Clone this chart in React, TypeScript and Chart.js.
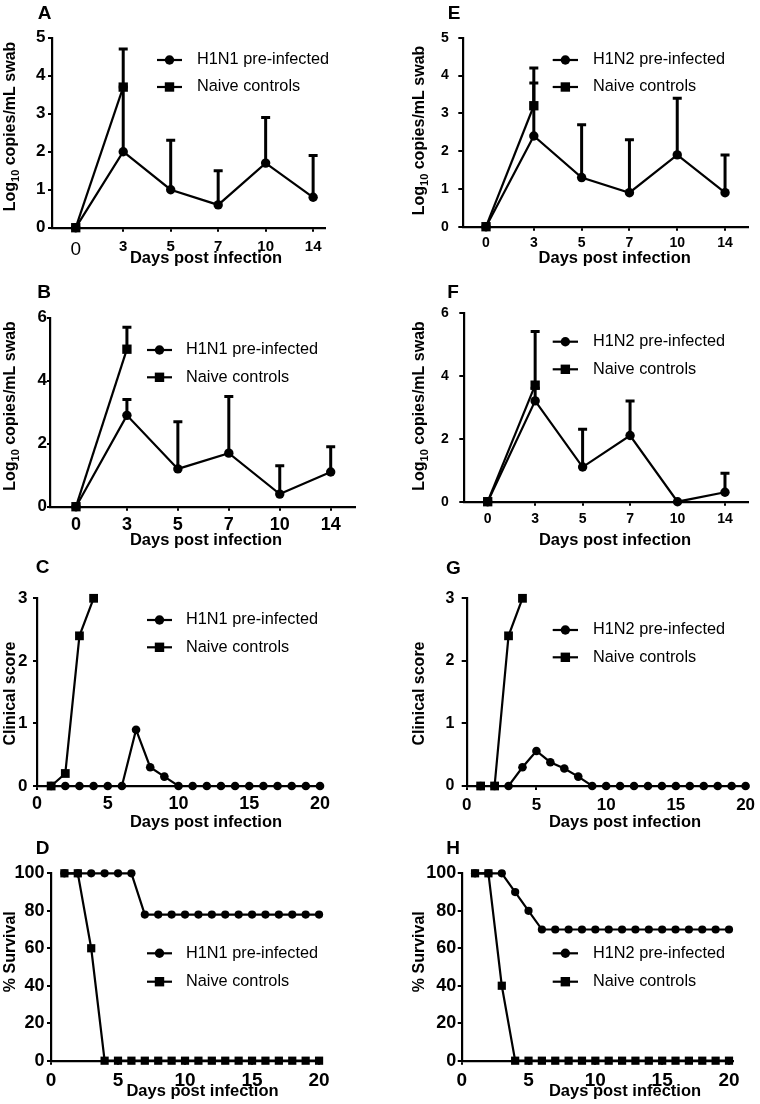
import React, { useEffect, useRef } from 'react';
import { Chart, registerables } from 'chart.js';

Chart.register(...registerables);

const FONT = '"Liberation Sans", Arial, Helvetica, sans-serif';

// ---------------- data ----------------
const swabDayLabels = ['0', '3', '5', '7', '10', '14'];
const swabIdx = [0, 1, 2, 3, 4, 5];
const naiveSwabIdx = [0, 1];
const dailyDays = [1, 2, 3, 4, 5, 6, 7, 8, 9, 10, 11, 12, 13, 14, 15, 16, 17, 18, 19, 20];
const naiveDays = [1, 2, 3, 4];
const dailyTicks = [0, 5, 10, 15, 20];

const ticks0to5 = [0, 1, 2, 3, 4, 5];
const ticks0to6 = [0, 2, 4, 6];
const ticks0to3 = [0, 1, 2, 3];
const ticks0to100 = [0, 20, 40, 60, 80, 100];

// A: H1N1, nasal swab
const aPre = [0, 2.0, 1.0, 0.6, 1.7, 0.8];
const aPreSd = [0, 1.7, 1.3, 0.9, 1.2, 1.1];
const aNaive = [0, 3.7];
const aNaiveSd = [0, 1.0];
// B: H1N1, second swab
const bPre = [0, 2.9, 1.2, 1.7, 0.4, 1.1];
const bPreSd = [0, 0.5, 1.5, 1.8, 0.9, 0.8];
const bNaive = [0, 5.0];
const bNaiveSd = [0, 0.7];
// E: H1N2, nasal swab
const ePre = [0, 2.4, 1.3, 0.9, 1.9, 0.9];
const ePreSd = [0, 1.4, 1.4, 1.4, 1.5, 1.0];
const eNaive = [0, 3.2];
const eNaiveSd = [0, 1.0];
// F: H1N2, second swab
const fPre = [0, 3.2, 1.1, 2.1, 0, 0.3];
const fPreSd = [0, 0.4, 1.2, 1.1, 0, 0.6];
const fNaive = [0, 3.7];
const fNaiveSd = [0, 1.7];
// C: H1N1 clinical score (days 1-20)
const cPre = [0, 0, 0, 0, 0, 0, 0.9, 0.3, 0.15, 0, 0, 0, 0, 0, 0, 0, 0, 0, 0, 0];
const cNaive = [0, 0.2, 2.4, 3.0];
// G: H1N2 clinical score
const gPre = [0, 0, 0, 0.3, 0.56, 0.38, 0.28, 0.15, 0, 0, 0, 0, 0, 0, 0, 0, 0, 0, 0, 0];
const gNaive = [0, 0, 2.4, 3.0];
// D: H1N1 survival
const dPre = [100, 100, 100, 100, 100, 100, 78, 78, 78, 78, 78, 78, 78, 78, 78, 78, 78, 78, 78, 78];
const dNaive = [100, 100, 60, 0, 0, 0, 0, 0, 0, 0, 0, 0, 0, 0, 0, 0, 0, 0, 0, 0];
// H: H1N2 survival
const hPre = [100, 100, 100, 90, 80, 70, 70, 70, 70, 70, 70, 70, 70, 70, 70, 70, 70, 70, 70, 70];
const hNaive = [100, 100, 40, 0, 0, 0, 0, 0, 0, 0, 0, 0, 0, 0, 0, 0, 0, 0, 0, 0];

const legendH1N1 = ['H1N1 pre-infected', 'Naive controls'];
const legendH1N2 = ['H1N2 pre-infected', 'Naive controls'];
const xTitleText = 'Days post infection';
const yTitleLog = [{ t: 'Log' }, { t: '10', sub: true }, { t: ' copies/mL swab' }];
const yTitleClin = [{ t: 'Clinical score' }];
const yTitleSurv = [{ t: '% Survival' }];

// ---------------- layout ----------------
type Series = { xs: number[]; values: number[]; sd?: number[]; style: 'circle' | 'rect' };
type Panel = {
  letter: string;
  box: number[];
  area: number[];
  xMin: number; xMax: number; xTicks: number[]; xLabels?: string[];
  yMin: number; yMax: number; yTicks: number[];
  xFont: number; xTickLen: number; xPad: number; xFirstRegular?: number;
  yFont: number; yTickLen: number; yPad: number;
  circleR: number; rectR: number;
  series: Series[];
  letterPos: number[]; xTitlePos: number[]; yTitlePos: number[];
  yTitle: { t: string; sub?: boolean }[];
  legend: { x1: number; x2: number; tx: number; rows: number[]; labels: string[] };
};

const panels: Panel[] = [
  {
    letter: 'A', box: [0, 0, 380, 270], area: [52, 37.7, 325, 227.7],
    xMin: -0.5, xMax: 5.25, xTicks: swabIdx, xLabels: swabDayLabels,
    yMin: 0, yMax: 5, yTicks: ticks0to5,
    xFont: 15, xTickLen: 4, xPad: 6.2, xFirstRegular: 19,
    yFont: 17, yTickLen: 4, yPad: 2.5, circleR: 4.7, rectR: 6.6,
    series: [
      { xs: naiveSwabIdx, values: aNaive, sd: aNaiveSd, style: 'rect' },
      { xs: swabIdx, values: aPre, sd: aPreSd, style: 'circle' },
    ],
    letterPos: [44.5, 14], xTitlePos: [206, 258], yTitlePos: [10, 126.5], yTitle: yTitleLog,
    legend: { x1: 157, x2: 182, tx: 197, rows: [60, 87], labels: legendH1N1 },
  },
  {
    letter: 'E', box: [380, 0, 380, 270], area: [463.3, 37.7, 748, 226.7],
    xMin: -0.475, xMax: 5.48, xTicks: swabIdx, xLabels: swabDayLabels,
    yMin: 0, yMax: 5, yTicks: ticks0to5,
    xFont: 14, xTickLen: 4, xPad: 4.4,
    yFont: 14, yTickLen: 5, yPad: 9.5, circleR: 4.7, rectR: 6.6,
    series: [
      { xs: naiveSwabIdx, values: eNaive, sd: eNaiveSd, style: 'rect' },
      { xs: swabIdx, values: ePre, sd: ePreSd, style: 'circle' },
    ],
    letterPos: [454, 14], xTitlePos: [614.7, 258.3], yTitlePos: [419, 130.5], yTitle: yTitleLog,
    legend: { x1: 552.7, x2: 578, tx: 593, rows: [60, 87], labels: legendH1N2 },
  },
  {
    letter: 'B', box: [0, 270, 380, 282], area: [50, 317.7, 355, 506.7],
    xMin: -0.51, xMax: 5.477, xTicks: swabIdx, xLabels: swabDayLabels,
    yMin: 0, yMax: 6, yTicks: ticks0to6,
    xFont: 18, xTickLen: 4, xPad: 3.5,
    yFont: 17, yTickLen: 3, yPad: 0, circleR: 4.7, rectR: 6.6,
    series: [
      { xs: naiveSwabIdx, values: bNaive, sd: bNaiveSd, style: 'rect' },
      { xs: swabIdx, values: bPre, sd: bPreSd, style: 'circle' },
    ],
    letterPos: [44, 293], xTitlePos: [206, 540], yTitlePos: [10, 406], yTitle: yTitleLog,
    legend: { x1: 147, x2: 172, tx: 186, rows: [350, 377.3], labels: legendH1N1 },
  },
  {
    letter: 'F', box: [380, 270, 380, 282], area: [464.3, 312.7, 748, 501.7],
    xMin: -0.493, xMax: 5.485, xTicks: swabIdx, xLabels: swabDayLabels,
    yMin: 0, yMax: 6, yTicks: ticks0to6,
    xFont: 14, xTickLen: 4, xPad: 5.2,
    yFont: 14, yTickLen: 5, yPad: 10.5, circleR: 4.7, rectR: 6.6,
    series: [
      { xs: naiveSwabIdx, values: fNaive, sd: fNaiveSd, style: 'rect' },
      { xs: swabIdx, values: fPre, sd: fPreSd, style: 'circle' },
    ],
    letterPos: [453, 292.7], xTitlePos: [615, 540], yTitlePos: [419, 406], yTitle: yTitleLog,
    legend: { x1: 552.7, x2: 578, tx: 593, rows: [341.7, 369.3], labels: legendH1N2 },
  },
  {
    letter: 'C', box: [0, 540, 380, 294], area: [37, 598.3, 321, 786],
    xMin: 0, xMax: 20.07, xTicks: dailyTicks,
    yMin: 0, yMax: 3, yTicks: ticks0to3,
    xFont: 18, xTickLen: 4, xPad: 3.3,
    yFont: 17, yTickLen: 4, yPad: 5.5, circleR: 4.3, rectR: 6.2,
    series: [
      { xs: naiveDays, values: cNaive, style: 'rect' },
      { xs: dailyDays, values: cPre, style: 'circle' },
    ],
    letterPos: [42.5, 568], xTitlePos: [206, 822], yTitlePos: [10, 693.5], yTitle: yTitleClin,
    legend: { x1: 147, x2: 172, tx: 186, rows: [620, 647.3], labels: legendH1N1 },
  },
  {
    letter: 'G', box: [380, 540, 380, 294], area: [466.7, 598.3, 750, 786],
    xMin: 0, xMax: 20.12, xTicks: dailyTicks,
    yMin: 0, yMax: 3, yTicks: ticks0to3,
    xFont: 17, xTickLen: 4, xPad: 4.9,
    yFont: 16, yTickLen: 5, yPad: 7.2, circleR: 4.3, rectR: 6.2,
    series: [
      { xs: naiveDays, values: gNaive, style: 'rect' },
      { xs: dailyDays, values: gPre, style: 'circle' },
    ],
    letterPos: [453.3, 569], xTitlePos: [625, 822], yTitlePos: [419, 693.5], yTitle: yTitleClin,
    legend: { x1: 552.7, x2: 578, tx: 593, rows: [630, 657.3], labels: legendH1N2 },
  },
  {
    letter: 'D', box: [0, 820, 380, 284], area: [51, 873.3, 320, 1060.7],
    xMin: 0, xMax: 20.07, xTicks: dailyTicks,
    yMin: 0, yMax: 100, yTicks: ticks0to100,
    xFont: 19, xTickLen: 4, xPad: 5,
    yFont: 18, yTickLen: 4, yPad: 2.5, circleR: 4.1, rectR: 5.8,
    series: [
      { xs: dailyDays, values: dNaive, style: 'rect' },
      { xs: dailyDays, values: dPre, style: 'circle' },
    ],
    letterPos: [42.5, 849], xTitlePos: [202.5, 1091.7], yTitlePos: [10, 951.7], yTitle: yTitleSurv,
    legend: { x1: 147, x2: 172, tx: 186, rows: [953.3, 981.7], labels: legendH1N1 },
  },
  {
    letter: 'H', box: [380, 820, 380, 284], area: [461.7, 873.3, 733, 1060.7],
    xMin: 0, xMax: 20.3, xTicks: dailyTicks,
    yMin: 0, yMax: 100, yTicks: ticks0to100,
    xFont: 19, xTickLen: 4, xPad: 5,
    yFont: 18, yTickLen: 4, yPad: 1.5, circleR: 4.1, rectR: 5.8,
    series: [
      { xs: dailyDays, values: hNaive, style: 'rect' },
      { xs: dailyDays, values: hPre, style: 'circle' },
    ],
    letterPos: [453, 849], xTitlePos: [625, 1091.7], yTitlePos: [419, 951.7], yTitle: yTitleSurv,
    legend: { x1: 552.7, x2: 578, tx: 593, rows: [953.3, 981.7], labels: legendH1N2 },
  },
];

function decorPlugin(p: Panel) {
  const [ox, oy] = p.box;
  return {
    id: 'decor' + p.letter,
    beforeDatasetsDraw(chart: any) {
      const ctx = chart.ctx;
      const xs = chart.scales.x;
      const ys = chart.scales.y;
      ctx.save();
      ctx.strokeStyle = '#000';
      ctx.lineWidth = 3;
      ctx.lineCap = 'butt';
      p.series.forEach((s) => {
        if (!s.sd) return;
        s.values.forEach((v, i) => {
          const e = s.sd ? s.sd[i] : 0;
          if (!e) return;
          const x = xs.getPixelForValue(s.xs[i]);
          const y0 = ys.getPixelForValue(v);
          const y1 = ys.getPixelForValue(v + e);
          ctx.beginPath();
          ctx.moveTo(x, y0);
          ctx.lineTo(x, y1);
          ctx.moveTo(x - 4.5, y1);
          ctx.lineTo(x + 4.5, y1);
          ctx.stroke();
        });
      });
      ctx.restore();
    },
    afterDraw(chart: any) {
      const ctx = chart.ctx;
      ctx.save();
      ctx.fillStyle = '#000';
      ctx.strokeStyle = '#000';
      // panel letter
      ctx.font = `bold 19px ${FONT}`;
      ctx.textAlign = 'center';
      ctx.textBaseline = 'middle';
      ctx.fillText(p.letter, p.letterPos[0] - ox, p.letterPos[1] - oy);
      // x title
      ctx.font = `bold 16.5px ${FONT}`;
      ctx.fillText(xTitleText, p.xTitlePos[0] - ox, p.xTitlePos[1] - oy);
      // y title (rotated, with optional subscript)
      ctx.save();
      ctx.translate(p.yTitlePos[0] - ox, p.yTitlePos[1] - oy);
      ctx.rotate(-Math.PI / 2);
      const mainF = `bold 16px ${FONT}`;
      const subF = `bold 11px ${FONT}`;
      let total = 0;
      p.yTitle.forEach((pc) => {
        ctx.font = pc.sub ? subF : mainF;
        total += ctx.measureText(pc.t).width;
      });
      let tx = -total / 2;
      ctx.textAlign = 'left';
      ctx.textBaseline = 'alphabetic';
      p.yTitle.forEach((pc) => {
        ctx.font = pc.sub ? subF : mainF;
        ctx.fillText(pc.t, tx, pc.sub ? 8.5 : 4.8);
        tx += ctx.measureText(pc.t).width;
      });
      ctx.restore();
      // legend
      const lg = p.legend;
      lg.labels.forEach((lab, i) => {
        const y = lg.rows[i] - oy;
        const x1 = lg.x1 - ox;
        const x2 = lg.x2 - ox;
        ctx.lineWidth = 2.2;
        ctx.beginPath();
        ctx.moveTo(x1, y);
        ctx.lineTo(x2, y);
        ctx.stroke();
        const cx = (x1 + x2) / 2;
        if (i === 0) {
          ctx.beginPath();
          ctx.arc(cx, y, 4.7, 0, Math.PI * 2);
          ctx.fill();
        } else {
          ctx.fillRect(cx - 4.7, y - 4.7, 9.4, 9.4);
        }
        ctx.font = `16.3px ${FONT}`;
        ctx.textAlign = 'left';
        ctx.textBaseline = 'middle';
        ctx.fillText(lab, lg.tx - ox, y);
      });
      ctx.restore();
    },
  };
}

function buildConfig(p: Panel): any {
  const [bx, by, bw, bh] = p.box;
  const [l, t, r, b] = p.area;
  const yW = l - bx;
  const xH = by + bh - b;
  const datasets = p.series.map((s) => ({
    data: s.xs.map((x, i) => ({ x, y: s.values[i] })),
    borderColor: '#000',
    backgroundColor: '#000',
    borderWidth: 2.2,
    pointStyle: s.style,
    pointRadius: s.style === 'circle' ? p.circleR : p.rectR,
    pointBackgroundColor: '#000',
    pointBorderColor: '#000',
    pointBorderWidth: 0,
    tension: 0,
    clip: false,
  }));
  return {
    type: 'line',
    data: { datasets },
    options: {
      animation: false,
      responsive: false,
      devicePixelRatio: 1,
      events: [],
      layout: { padding: { left: 0, top: t - by, right: bx + bw - r, bottom: 0 } },
      plugins: { legend: { display: false }, tooltip: { enabled: false }, title: { display: false } },
      scales: {
        x: {
          type: 'linear',
          position: 'bottom',
          min: p.xMin,
          max: p.xMax,
          afterBuildTicks: (sc: any) => {
            sc.ticks = p.xTicks.map((v) => ({ value: v }));
          },
          afterFit: (sc: any) => {
            sc.height = xH;
          },
          ticks: {
            color: '#000',
            padding: p.xPad,
            autoSkip: false,
            maxRotation: 0,
            minRotation: 0,
            font: (ctx: any) =>
              p.xFirstRegular && ctx.index === 0
                ? { family: FONT, size: p.xFirstRegular, weight: 'normal' }
                : { family: FONT, size: p.xFont, weight: 'bold' },
            callback: (v: any, i: number) => (p.xLabels ? p.xLabels[i] : String(v)),
          },
          grid: { display: true, drawOnChartArea: false, drawTicks: true, tickLength: p.xTickLen, color: '#000', lineWidth: 2 },
          border: { display: true, color: '#000', width: 2.2 },
        },
        y: {
          type: 'linear',
          position: 'left',
          min: p.yMin,
          max: p.yMax,
          afterBuildTicks: (sc: any) => {
            sc.ticks = p.yTicks.map((v) => ({ value: v }));
          },
          afterFit: (sc: any) => {
            sc.width = yW;
          },
          ticks: {
            color: '#000',
            padding: p.yPad,
            autoSkip: false,
            font: { family: FONT, size: p.yFont, weight: 'bold' },
            callback: (v: any) => String(v),
          },
          grid: { display: true, drawOnChartArea: false, drawTicks: true, tickLength: p.yTickLen, color: '#000', lineWidth: 2 },
          border: { display: true, color: '#000', width: 2.2 },
        },
      },
    },
    plugins: [decorPlugin(p)],
  };
}

function PanelChart({ p }: { p: Panel }) {
  const ref = useRef<HTMLCanvasElement>(null);
  useEffect(() => {
    const chart = new Chart(ref.current as HTMLCanvasElement, buildConfig(p));
    return () => chart.destroy();
  }, [p]);
  const [bx, by, bw, bh] = p.box;
  return (
    <canvas
      ref={ref}
      width={bw}
      height={bh}
      style={{ position: 'absolute', left: bx, top: by, width: bw, height: bh, display: 'block' }}
    />
  );
}

export default function App() {
  useEffect(() => {
    document.body.style.margin = '0';
    document.body.style.overflow = 'hidden';
  }, []);
  return (
    <div style={{ position: 'absolute', left: 0, top: 0, width: 760, height: 1104, background: '#fff', overflow: 'hidden' }}>
      {panels.map((p) => (
        <PanelChart key={p.letter} p={p} />
      ))}
    </div>
  );
}
